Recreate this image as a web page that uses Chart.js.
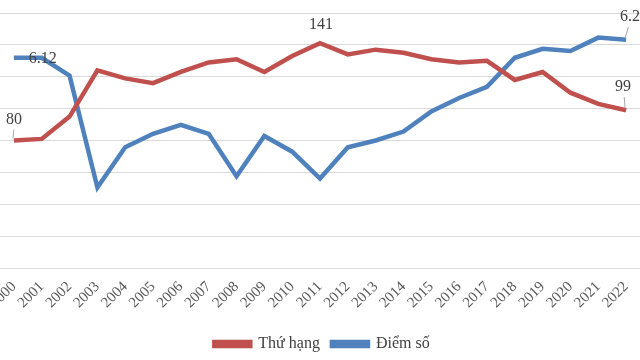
<!DOCTYPE html>
<html>
<head>
<meta charset="utf-8">
<script src="https://cdn.jsdelivr.net/npm/chart.js@4/dist/chart.umd.min.js"></script>
<style>
  html, body { margin: 0; padding: 0; background: #fff; }
  #wrap { width: 640px; height: 360px; }
</style>
</head>
<body>
<div id="wrap"><canvas id="chart"></canvas></div>
<script>
// data
const years = ["2000", "2001", "2002", "2003", "2004", "2005", "2006", "2007", "2008", "2009", "2010", "2011",
  "2012", "2013", "2014", "2015", "2016", "2017", "2018", "2019", "2020", "2021", "2022"];
const rank = [80, 81, 95, 124, 119, 116, 123, 129, 131, 123, 133, 141,
  134, 137, 135, 131, 129, 130, 118, 123, 110, 103, 99];
const score = [6.12, 6.12, 6.04, 5.54, 5.72, 5.78, 5.82, 5.78, 5.59, 5.77, 5.70, 5.58,
  5.72, 5.75, 5.79, 5.88, 5.94, 5.99, 6.12, 6.16, 6.15, 6.21, 6.20];
const rankTicks = [0, 160, 20];   // min, max, step
const scoreRange = [5.18, 6.32];

// labels drawn on some points: dataset, index, text, dx, dy, leader
const pointLabels = [
  { ds: 0, i: 0, text: "80", dx: 0, dy: -21, lead: true },
  { ds: 1, i: 1, text: "6.12", dx: 1, dy: 1, lead: false },
  { ds: 0, i: 11, text: "141", dx: 1, dy: -18, lead: false },
  { ds: 1, i: 22, text: "6.2", dx: 4, dy: -23, lead: true },
  { ds: 0, i: 22, text: "99", dx: -3, dy: -23, lead: true }
];

const labelPlugin = {
  id: "pointLabels",
  afterDatasetsDraw(chart) {
    const ctx = chart.ctx;
    ctx.save();
    ctx.font = "16px 'Liberation Serif', serif";
    ctx.fillStyle = "#404040";
    ctx.textAlign = "center";
    ctx.textBaseline = "middle";
    pointLabels.forEach(l => {
      const pt = chart.getDatasetMeta(l.ds).data[l.i];
      const x = pt.x + l.dx, y = pt.y + l.dy;
      if (l.lead) {
        ctx.strokeStyle = "#a6a6a6";
        ctx.lineWidth = 1;
        ctx.beginPath();
        ctx.moveTo(pt.x - 1, pt.y - 2);
        ctx.lineTo(x - l.dx * 0.4, y + 10);
        ctx.stroke();
      }
      ctx.fillText(l.text, x, y);
    });
    ctx.restore();
  }
};

new Chart(document.getElementById("chart"), {
  type: "line",
  data: {
    labels: years,
    datasets: [
      {
        label: "Thứ hạng",
        data: rank,
        borderColor: "#c0504d",
        backgroundColor: "#c0504d",
        borderWidth: 4.5,
        pointRadius: 0,
        tension: 0,
        yAxisID: "y"
      },
      {
        label: "Điểm số",
        data: score,
        borderColor: "#4f81bd",
        backgroundColor: "#4f81bd",
        borderWidth: 4.5,
        pointRadius: 0,
        tension: 0,
        yAxisID: "y2"
      }
    ]
  },
  options: {
    responsive: true,
    maintainAspectRatio: false,
    animation: false,
    layout: { padding: { left: -3, right: -7, top: 13, bottom: -2 } },
    plugins: {
      tooltip: { enabled: false },
      legend: {
        position: "bottom",
        labels: {
          boxWidth: 36,
          boxHeight: 4,
          padding: 12,
          color: "#404040",
          font: { family: "'Liberation Serif', serif", size: 16 }
        }
      }
    },
    scales: {
      x: {
        offset: true,
        grid: { display: false },
        border: { display: false },
        afterFit(scale) {
          scale.height = 56;
          scale.paddingLeft = 0;
          scale.paddingRight = 0;
        },
        ticks: {
          maxRotation: 45,
          minRotation: 45,
          autoSkip: false,
          padding: 2,
          color: "#595959",
          font: { family: "'Liberation Serif', serif", size: 15 }
        }
      },
      y: {
        min: rankTicks[0],
        max: rankTicks[1],
        afterFit(scale) { scale.width = 0; },
        ticks: { stepSize: rankTicks[2], display: false },
        border: { display: false },
        grid: { color: "#d9d9d9", lineWidth: 1, drawTicks: false }
      },
      y2: {
        display: false,
        position: "right",
        min: scoreRange[0],
        max: scoreRange[1]
      }
    }
  },
  plugins: [labelPlugin]
});
</script>
</body>
</html>
